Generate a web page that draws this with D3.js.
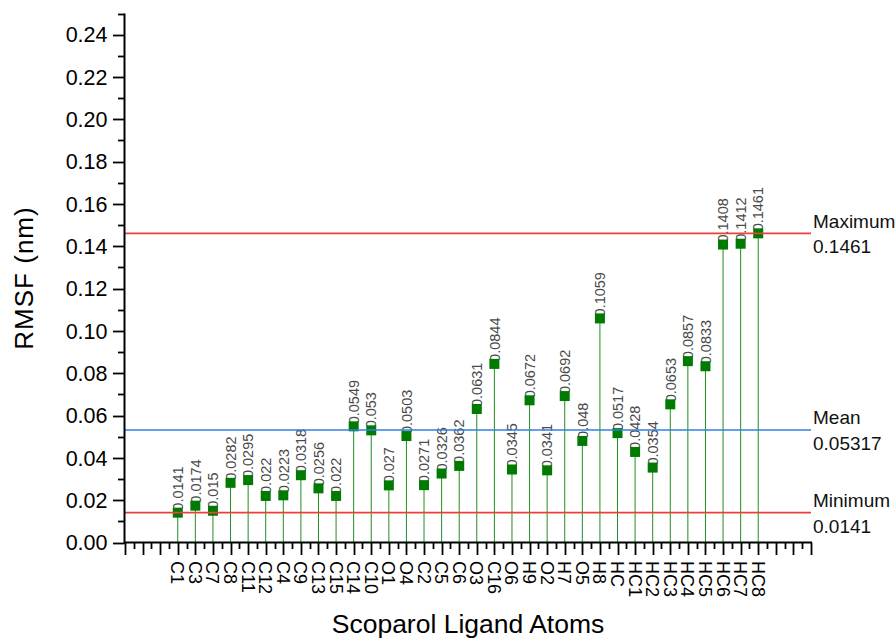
<!DOCTYPE html>
<html>
<head>
<meta charset="utf-8">
<script src="https://cdn.jsdelivr.net/npm/d3@7"></script>
<style>
  html, body { margin: 0; padding: 0; background: #fff; }
  svg { display: block; font-family: "Liberation Sans", Arial, sans-serif; }
</style>
</head>
<body>
<svg id="chart" width="895" height="642"></svg>
<script>
const atoms = ["C1","C3","C7","C8","C11","C12","C4","C9","C13","C15","C14","C10","O1","O4","C2","C5","C6","O3","C16","O6","H9","O2","H7","O5","H8","HC","HC1","HC2","HC3","HC4","HC5","HC6","HC7","HC8"];
const rmsf = [0.0141,0.0174,0.015,0.0282,0.0295,0.022,0.0223,0.0318,0.0256,0.022,0.0549,0.053,0.027,0.0503,0.0271,0.0326,0.0362,0.0631,0.0844,0.0345,0.0672,0.0341,0.0692,0.048,0.1059,0.0517,0.0428,0.0354,0.0653,0.0857,0.0833,0.1408,0.1412,0.1461];
const valueLabels = ["0.0141","0.0174","0.015","0.0282","0.0295","0.022","0.0223","0.0318","0.0256","0.022","0.0549","0.053","0.027","0.0503","0.0271","0.0326","0.0362","0.0631","0.0844","0.0345","0.0672","0.0341","0.0692","0.048","0.1059","0.0517","0.0428","0.0354","0.0653","0.0857","0.0833","0.1408","0.1412","0.1461"];
const yTicks = [0,0.02,0.04,0.06,0.08,0.10,0.12,0.14,0.16,0.18,0.20,0.22,0.24];
const refNames = ["Maximum","Mean","Minimum"];
const refValues = [0.1461,0.05317,0.0141];
const refLabels = ["0.1461","0.05317","0.0141"];
const refColors = ["#e8423c","#2f7fe3","#e8423c"];

const svg = d3.select("#chart");
const x = d3.scaleLinear().domain([0, 39]).range([125, 811]);
const y = d3.scaleLinear().domain([0, 0.25]).range([542.5, 13.5]);
const pos = i => x(i + 3);

// stems
svg.append("g").selectAll("line").data(rmsf).join("line")
  .attr("x1", (d,i) => pos(i)).attr("x2", (d,i) => pos(i))
  .attr("y1", d => y(d)).attr("y2", y(0))
  .attr("stroke", "#1f8f1f").attr("stroke-width", 1);

// value labels
svg.append("g").selectAll("text").data(rmsf).join("text")
  .attr("transform", (d,i) => `translate(${pos(i)},${y(d) - 2}) rotate(-90)`)
  .attr("dy", "0.36em")
  .attr("font-size", "14.5px")
  .attr("fill", "#4a4a4a")
  .text((d,i) => valueLabels[i]);

// markers
const ms = 10;
svg.append("g").selectAll("rect").data(rmsf).join("rect")
  .attr("x", (d,i) => pos(i) - ms/2).attr("y", d => y(d) - ms/2)
  .attr("width", ms).attr("height", ms)
  .attr("fill", "#007a00");

// reference lines
const refG = svg.append("g");
refValues.forEach((v, k) => {
  refG.append("line")
    .attr("x1", x(0)).attr("x2", x(39))
    .attr("y1", y(v)).attr("y2", y(v))
    .attr("stroke", refColors[k]).attr("stroke-width", 1.6);
  refG.append("text").attr("x", x(39) + 2).attr("y", y(v) - 5.5)
    .attr("font-size", "19px").attr("fill", "#111").text(refNames[k]);
  refG.append("text").attr("x", x(39) + 2).attr("y", y(v) + 20)
    .attr("font-size", "19px").attr("fill", "#111").text(refLabels[k]);
});

// Y axis
const yAxis = svg.append("g");
yAxis.append("line").attr("x1", 124.5).attr("x2", 124.5).attr("y1", y(0.25)).attr("y2", y(0) + 1)
  .attr("stroke", "#000").attr("stroke-width", 2);
const yMinor = d3.range(1, 26, 2).map(k => k / 100);
yAxis.selectAll("line.minor").data(yMinor).join("line").attr("class","minor")
  .attr("x1", 118).attr("x2", 124.5).attr("y1", d => Math.round(y(d)) + 0.5).attr("y2", d => Math.round(y(d)) + 0.5)
  .attr("stroke", "#000").attr("stroke-width", 1.8);
yAxis.selectAll("line.major").data(yTicks).join("line").attr("class","major")
  .attr("x1", 113).attr("x2", 124.5).attr("y1", d => Math.round(y(d)) + 0.5).attr("y2", d => Math.round(y(d)) + 0.5)
  .attr("stroke", "#000").attr("stroke-width", 1.8);
yAxis.selectAll("text").data(yTicks).join("text")
  .attr("x", 107.5).attr("y", d => y(d)).attr("dy", "0.36em")
  .attr("text-anchor", "end").attr("font-size", "21.5px").attr("fill", "#000")
  .text(d => d3.format(".2f")(d));

// X axis
const xAxis = svg.append("g");
xAxis.append("line").attr("x1", 124).attr("x2", x(39) + 1).attr("y1", 542.5).attr("y2", 542.5)
  .attr("stroke", "#000").attr("stroke-width", 2);
const xMajor = d3.range(0, 40);
const xMinor = d3.range(0, 39).map(k => k + 0.5);
xAxis.selectAll("line.minor").data(xMinor).join("line").attr("class","minor")
  .attr("x1", d => Math.round(x(d)) + 0.5).attr("x2", d => Math.round(x(d)) + 0.5)
  .attr("y1", 542.5).attr("y2", 549)
  .attr("stroke", "#000").attr("stroke-width", 1.8);
xAxis.selectAll("line.major").data(xMajor).join("line").attr("class","major")
  .attr("x1", d => Math.round(x(d)) + 0.5).attr("x2", d => Math.round(x(d)) + 0.5)
  .attr("y1", 542.5).attr("y2", 555)
  .attr("stroke", "#000").attr("stroke-width", 1.8);
xAxis.selectAll("text").data(atoms).join("text")
  .attr("transform", (d,i) => `translate(${pos(i)},561) rotate(90)`)
  .attr("dy", "0.36em")
  .attr("font-size", "18px").attr("fill", "#000")
  .text(d => d);

// axis titles
svg.append("text")
  .attr("transform", `translate(33,${(y(0.25) + y(0)) / 2}) rotate(-90)`)
  .attr("text-anchor", "middle").attr("font-size", "26px").attr("letter-spacing", "1px")
  .attr("fill", "#000").text("RMSF (nm)");
svg.append("text")
  .attr("x", (x(0) + x(39)) / 2).attr("y", 633)
  .attr("text-anchor", "middle").attr("font-size", "26.5px").attr("fill", "#000")
  .text("Scoparol Ligand Atoms");
</script>
</body>
</html>
